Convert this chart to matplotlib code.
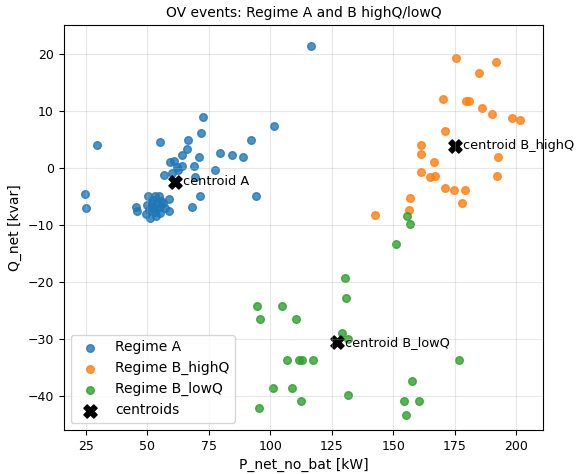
import numpy as np
import matplotlib
matplotlib.use("Agg")
import matplotlib.pyplot as plt

# Regime A
a_p = [116.6, 29.5, 24.5, 25.0, 72.5, 72.0, 101.6, 92.3, 55.0, 66.6, 66.0, 64.2, 71.0,
       79.7, 84.3, 89.1, 59.2, 61.0, 62.2, 64.0, 69.0, 77.4, 62.6, 60.0, 56.8, 69.6,
       71.4, 94.1, 68.0,
       50.4, 54.7, 58.7, 45.4, 46.0, 52.4, 53.8, 51.7, 55.1, 57.2, 58.8, 49.4, 51.1,
       53.1, 55.1, 50.8, 56.5, 53.0, 54.0, 52.0, 49.8, 55.5, 53.5, 52.5]
a_q = [21.4, 4.1, -4.6, -7.0, 8.9, 6.2, 7.3, 5.0, 4.6, 5.0, 3.3, 2.2, 2.0,
       2.6, 2.3, 1.9, 1.0, 1.3, 0.2, 0.4, 0.4, -0.4, -0.4, -0.9, -1.3, -1.5,
       -4.9, -4.9, -6.8,
       -4.9, -4.9, -5.5, -6.8, -7.6, -5.6, -6.2, -6.8, -6.8, -7.1, -7.5, -8.1, -8.8,
       -7.8, -7.9, -7.4, -6.2, -5.0, -7.2, -6.2, -6.5, -5.8, -8.5, -7.0]

# Regime B_highQ
bh_p = [175.7, 191.7, 184.9, 170.4, 179.5, 180.9, 186.3, 190.2, 198.5, 201.8, 171.0,
        161.5, 161.5, 192.8, 166.6, 161.5, 164.9, 166.9, 192.3, 171.2, 174.6, 179.2,
        178.2, 156.7, 156.6, 142.6]
bh_q = [19.3, 18.6, 16.7, 12.1, 11.8, 11.8, 10.6, 9.5, 8.8, 8.5, 6.5,
        4.0, 2.5, 1.9, 1.0, -0.75, -1.6, -1.35, -1.35, -3.5, -3.9, -3.9,
        -6.1, -5.3, -7.4, -8.2]

# Regime B_lowQ
bl_p = [155.5, 156.8, 151.1, 130.3, 131.0, 94.8, 104.6, 96.0, 110.3, 129.4, 131.5,
        106.7, 111.8, 112.9, 117.5, 176.8, 157.6, 101.3, 108.9, 131.8, 112.4, 154.3,
        160.4, 95.3, 155.4]
bl_q = [-8.5, -9.8, -13.3, -19.4, -22.9, -24.2, -24.2, -26.5, -26.5, -29.0, -30.0,
        -33.7, -33.7, -33.7, -33.7, -33.7, -37.4, -38.6, -38.6, -39.8, -41.0, -41.0,
        -41.0, -42.2, -43.4]

cent_names = ["A", "B_highQ", "B_lowQ"]
cent_p = [61.1, 175.3, 127.1]
cent_q = [-2.45, 3.9, -30.6]

plt.rcParams["font.size"] = 9
fig, ax = plt.subplots(figsize=(5.79, 4.74), dpi=100)
fig.subplots_adjust(left=0.11, right=0.938, top=0.947, bottom=0.093)

ax.scatter(a_p, a_q, s=30, alpha=0.8, label="Regime A")
ax.scatter(bh_p, bh_q, s=30, alpha=0.8, label="Regime B_highQ")
ax.scatter(bl_p, bl_q, s=30, alpha=0.8, label="Regime B_lowQ")
ax.scatter(cent_p, cent_q, s=90, marker="X", c="black", label="centroids")
for n, x, y in zip(cent_names, cent_p, cent_q):
    ax.text(x + 3.3, y, f"centroid {n}", va="center", fontsize=9.3)

ax.set_xlim(16, 211)
ax.set_ylim(-46, 25.1)
ax.set_xlabel("P_net_no_bat [kW]", fontsize=10)
ax.set_ylabel("Q_net [kvar]", fontsize=10)
ax.set_title("OV events: Regime A and B highQ/lowQ", fontsize=10)
ax.grid(True, alpha=0.3)
ax.legend(loc="lower left", fontsize=10)
fig.savefig("out.png", dpi=100)
